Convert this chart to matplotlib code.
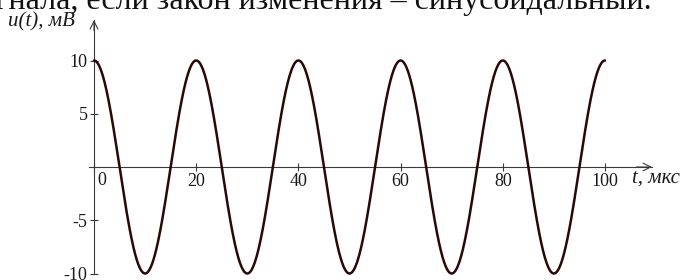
import numpy as np
import matplotlib
matplotlib.use("Agg")
import matplotlib.pyplot as plt

# ---- data ----
amplitude_mV = 10.0
period_us = 20.0
t_start, t_end = 0.0, 100.0
x_ticks = [0, 20, 40, 60, 80, 100]
x_tick_labels = ["0", "20", "40", "60", "80", "100"]
y_ticks = [-10, -5, 5, 10]
y_tick_labels = ["-10", "-5", "5", "10"]
x_label = "t, мкс"
y_label = "u(t), мВ"
caption = "сигнала, если закон изменения – синусоидальный."

t = np.linspace(t_start, t_end, 2001)
u = amplitude_mV * np.cos(2 * np.pi * t / period_us)

# ---- figure ----
W, H = 682, 280
fig = plt.figure(figsize=(W / 100, H / 100), dpi=100)
ax = fig.add_axes([0, 0, 1, 1])
ax.patch.set_alpha(0)

x0_px, x100_px = 94, 605
sx = (x100_px - x0_px) / 100.0
y0_px, sy = 167, 10.65
ax.set_xlim(-x0_px / sx, (W - x0_px) / sx)
ax.set_ylim(-(H - y0_px) / sy, y0_px / sy)

serif = ["Liberation Serif", "DejaVu Serif"]
axis_col = "#3a3a3a"
txt_col = "#1a1a1a"
tick_fs = 13

ax.plot(t, u, color="#2a0808", lw=1.8, solid_capstyle="round", zorder=3)

for side in ("top", "right"):
    ax.spines[side].set_visible(False)
ax.spines["left"].set_position(("data", 0))
ax.spines["bottom"].set_position(("data", 0))
x_tip = (652 - x0_px) / sx
y_tip = (y0_px - 20) / sy
ax.spines["left"].set_bounds(-10, y_tip)
ax.spines["bottom"].set_bounds(-1, x_tip)
for s in ("left", "bottom"):
    ax.spines[s].set_color(axis_col)
    ax.spines[s].set_linewidth(0.8)

# open arrowheads
ax.annotate("", xy=(x_tip, 0), xytext=(x_tip - 3, 0),
            arrowprops=dict(arrowstyle="->", color=axis_col, lw=0.8,
                            mutation_scale=14, shrinkA=0, shrinkB=0))
ax.annotate("", xy=(0, y_tip), xytext=(0, y_tip - 1),
            arrowprops=dict(arrowstyle="->", color=axis_col, lw=0.8,
                            mutation_scale=14, shrinkA=0, shrinkB=0))

ax.set_xticks(x_ticks)
ax.set_xticklabels([""] + x_tick_labels[1:])
ax.set_yticks(y_ticks)
ax.set_yticklabels(y_tick_labels)
ax.tick_params(axis="both", direction="inout", length=6, width=0.8,
               color=axis_col, labelsize=tick_fs, labelcolor=txt_col)
ax.tick_params(axis="x", pad=1.5)
ax.tick_params(axis="y", pad=1.5)
for lab in ax.get_xticklabels() + ax.get_yticklabels():
    lab.set_family(serif)

ax.annotate(x_tick_labels[0], xy=(0, 0), xytext=(2.5, -3.6), textcoords="offset points",
            ha="left", va="top", fontsize=tick_fs, family=serif, color=txt_col)

ax.text((632 - x0_px) / sx, -(178 - y0_px) / sy, x_label, ha="left", va="center",
        fontsize=15, style="italic", family=serif, color=txt_col)

fig.text(8 / W, 1 - 26 / H, y_label, ha="left", va="baseline",
         fontsize=15, style="italic", family=serif, color=txt_col)

fig.text(652 / W, 1 - 8.5 / H, caption, ha="right", va="baseline",
         fontsize=23, family=serif, color="#111111")

fig.savefig("out.png", dpi=100)
